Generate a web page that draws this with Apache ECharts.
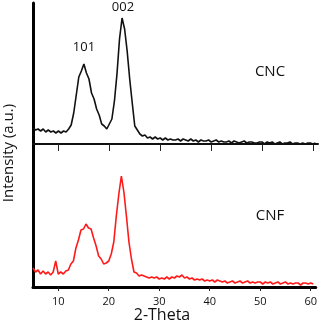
<!DOCTYPE html>
<html>
<head>
<meta charset="utf-8">
<script src="https://cdn.jsdelivr.net/npm/echarts@6/dist/echarts.min.js"></script>
<style>
html,body{margin:0;padding:0;background:#fff;}
#chart{width:320px;height:324px;}
</style>
</head>
<body>
<div id="chart"></div>
<script>
//全局数据
var twoTheta = [5,5.5,6,6.5,7,7.5,8,8.5,9,9.5,10,10.5,11,11.5,12,12.5,13,13.5,14,14.5,15,15.5,16,16.5,17,17.5,18,18.5,19,19.5,
	20,20.5,21,21.5,22,22.5,23,23.5,24,24.5,25,25.5,26,26.5,27,27.5,28,28.5,29,29.5,30,30.5,31,31.5,32,32.5,33,33.5,34,34.5,
	35,35.5,36,36.5,37,37.5,38,38.5,39,39.5,40,40.5,41,41.5,42,42.5,43,43.5,44,44.5,45,45.5,46,46.5,47,47.5,48,48.5,49,49.5,
	50,50.5,51,51.5,52,52.5,53,53.5,54,54.5,55,55.5,56,56.5,57,57.5,58,58.5,59,59.5,60,60.5];
// CNC 强度 (a.u.)
var cncValues = [16,14,15,13,15,12,14,12,13,11,13,11,13,12,15,19,31,49,67,73,80,71,65,51,45,35,29,20,18,15,
	20,25,43,70,105,126,115,93,65,41,18,14,10,8,9,6,7,5,7,5,6,4,6,4,5,4,4,5,3,5,
	4,3,5,3,4,2,4,3,3,4,2,3,4,2,3,2,2,3,1,3,2,1,2,3,1,2,2,1,1,2,
	2,0,2,1,2,0,1,2,0,1,1,2,0,1,1,0,1,0,1,1,0,1];
// CNF 强度 (a.u.)
var cnfValues = [19,15,17,13,16,13,15,12,15,26,13,15,13,16,17,23,26,39,47,57,58,63,59,58,49,41,31,28,23,24,
	26,33,45,71,93,111,95,71,45,28,15,14,11,12,11,10,9,10,9,10,8,9,8,10,8,10,9,11,10,12,
	9,10,8,9,7,8,7,8,6,7,6,7,5,7,6,5,6,4,5,6,4,5,6,4,5,6,4,5,4,5,
	5,3,5,4,5,3,4,5,3,4,5,3,4,3,4,4,2,4,4,3,4,3];
var tickValues = [10,20,30,40,50,60];

var textColor = '#111';
var fontName = 'Open Sans';

var toPairs = function(xs, ys){
	var arr = [];
	for(var i=0;i<xs.length;i++){
		arr.push([xs[i], ys[i]]);
	}
	return arr;
};

var myChart = echarts.init(document.getElementById('chart'));

var option = {
	backgroundColor: '#fff',
	animation: false,
	grid: [
		{left:33, right:2, top:3, height:141},   //上：CNC
		{left:33, right:2, top:144, height:143}  //下：CNF
	],
	xAxis: [{
		gridIndex:0, type:'value', min:5, max:61,
		axisLine:{show:true, lineStyle:{color:'#111', width:2}},
		axisTick:{show:true, length:7, customValues:tickValues, lineStyle:{color:'#222', width:1}},
		axisLabel:{show:false},
		splitLine:{show:false}
	},{
		gridIndex:1, type:'value', min:5, max:61,
		axisLine:{show:true, lineStyle:{color:'#000', width:3}},
		axisTick:{show:true, length:4, customValues:tickValues, lineStyle:{color:'#222', width:1}},
		axisLabel:{show:true, customValues:tickValues, margin:9, fontSize:11, fontFamily:fontName, color:textColor},
		splitLine:{show:false}
	}],
	yAxis: [{
		gridIndex:0, type:'value', min:0, max:141,
		axisLine:{show:true, lineStyle:{color:'#000', width:3}},
		axisTick:{show:false}, axisLabel:{show:false}, splitLine:{show:false}
	},{
		gridIndex:1, type:'value', min:0, max:143,
		axisLine:{show:true, lineStyle:{color:'#000', width:3}},
		axisTick:{show:false}, axisLabel:{show:false}, splitLine:{show:false}
	}],
	series: [{
		name:'CNC', type:'line', xAxisIndex:0, yAxisIndex:0,
		data: toPairs(twoTheta, cncValues),
		showSymbol:false, lineStyle:{color:'#111', width:1.6}
	},{
		name:'CNF', type:'line', xAxisIndex:1, yAxisIndex:1,
		data: toPairs(twoTheta, cnfValues),
		showSymbol:false, lineStyle:{color:'#ff1a1a', width:1.6}
	}],
	graphic: [
		{type:'text', x:84, y:47, style:{text:'101', fontSize:13, fontFamily:fontName, fill:textColor, align:'center', verticalAlign:'middle'}},
		{type:'text', x:123, y:7, style:{text:'002', fontSize:13, fontFamily:fontName, fill:textColor, align:'center', verticalAlign:'middle'}},
		{type:'text', x:270, y:72, style:{text:'CNC', fontSize:15, fontFamily:fontName, fill:textColor, align:'center', verticalAlign:'middle'}},
		{type:'text', x:270, y:216, style:{text:'CNF', fontSize:15, fontFamily:fontName, fill:textColor, align:'center', verticalAlign:'middle'}},
		{type:'text', x:162, y:315, style:{text:'2-Theta', fontSize:16, fontFamily:fontName, fill:textColor, align:'center', verticalAlign:'middle'}},
		{type:'text', x:9, y:153, rotation:Math.PI/2, style:{text:'Intensity (a.u.)', fontSize:15, fontFamily:fontName, fill:textColor, align:'center', verticalAlign:'middle'}}
	]
};

myChart.setOption(option);
</script>
</body>
</html>
